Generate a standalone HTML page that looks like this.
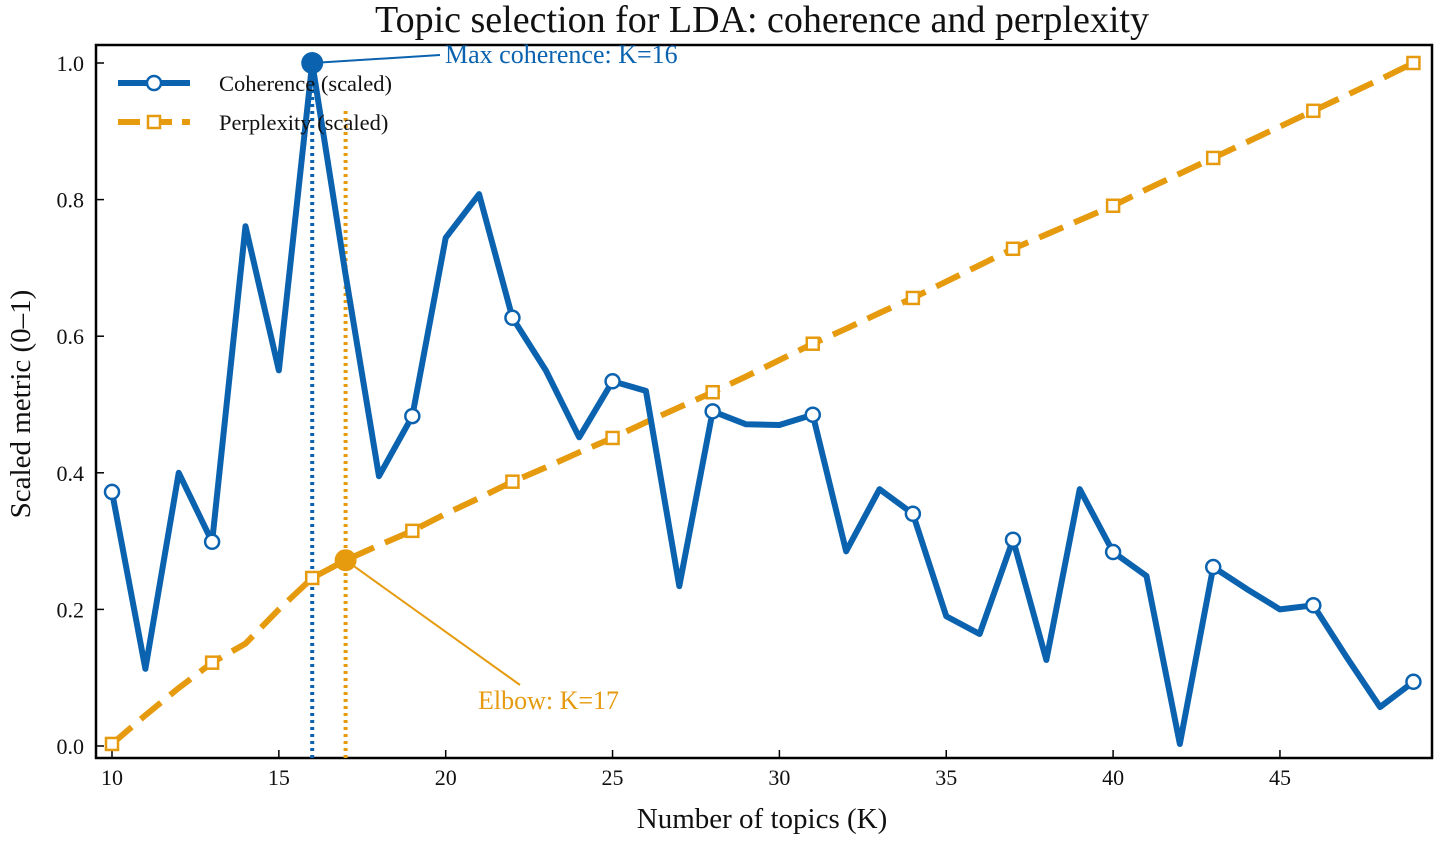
<!DOCTYPE html>
<html><head><meta charset="utf-8"><style>
body{margin:0;background:#fff;}
svg text{font-family:"Liberation Serif",serif;fill:#111;}
</style></head><body>
<svg id="chart" width="1441" height="844" xmlns="http://www.w3.org/2000/svg">
<text x="762" y="32" font-size="38" text-anchor="middle">Topic selection for LDA: coherence and perplexity</text>
<rect x="96" y="45" width="1336" height="713" fill="none" stroke="#000" stroke-width="2.5"/>
<g id="ticks"></g>
<g id="marks"></g>
<text x="762" y="828" font-size="29" text-anchor="middle">Number of topics (K)</text>
<text transform="translate(30,404) rotate(-90)" font-size="29" text-anchor="middle">Scaled metric (0–1)</text>
</svg>
<script>
const topics=[10,11,12,13,14,15,16,17,18,19,20,21,22,23,24,25,26,27,28,29,30,31,32,33,34,35,36,37,38,39,40,41,42,43,44,45,46,47,48,49];
const coherence=[0.372,0.113,0.40,0.299,0.761,0.55,1.0,0.69,0.395,0.483,0.744,0.808,0.627,0.55,0.452,0.534,0.52,0.234,0.49,0.471,0.47,0.485,0.285,0.376,0.34,0.19,0.164,0.302,0.126,0.376,0.284,0.249,0.003,0.262,0.23,0.2,0.206,0.13,0.057,0.094];
const perplexity=[0.003,0.045,0.085,0.122,0.15,0.2,0.246,0.272,0.294,0.315,0.34,0.363,0.387,0.408,0.43,0.451,0.474,0.496,0.518,0.541,0.565,0.589,0.611,0.634,0.656,0.68,0.704,0.728,0.749,0.77,0.791,0.815,0.838,0.861,0.884,0.907,0.93,0.953,0.976,1.0];
const xTicks=[10,15,20,25,30,35,40,45];
const yTicks=[0.0,0.2,0.4,0.6,0.8,1.0];
const bestK=16, elbowK=17;
const X=k=>112+(k-10)*33.37;
const Y=v=>746-v*683;
const NS="http://www.w3.org/2000/svg";
function mk(tag,attrs,parent,text){const e=document.createElementNS(NS,tag);for(const a in attrs)e.setAttribute(a,attrs[a]);if(text!==undefined)e.textContent=text;parent.appendChild(e);return e;}
const T=document.getElementById('ticks'),M=document.getElementById('marks');
xTicks.forEach(t=>{
 const l=mk('line',{x1:X(t),x2:X(t),y1:758,y2:750,stroke:'#000','stroke-width':1.5},T);
 
 
 const tx=mk('text',{x:X(t),y:785,'font-size':22,'text-anchor':'middle'},T,String(t));
 
 
});
yTicks.forEach(t=>{
 const l=mk('line',{x1:96,x2:104,y1:Y(t),y2:Y(t),stroke:'#000','stroke-width':1.5},T);
 
 
 const tx=mk('text',{x:84,y:Y(t)+8,'font-size':22,'text-anchor':'end'},T,t.toFixed(1));
 
 
});
const blue='#0b63b0',orange='#e69a0e';
let v1=mk('line',{x1:X(bestK),x2:X(bestK),y1:758,y2:Y(1),stroke:blue,'stroke-width':4,'stroke-dasharray':'3 4'},M);


let v2=mk('line',{x1:X(elbowK),x2:X(elbowK),y1:758,y2:Y(0.93),stroke:orange,'stroke-width':4,'stroke-dasharray':'3 4'},M);


const pp=perplexity.map((v,i)=>X(topics[i])+','+Y(v)).join(' ');
let pl=mk('polyline',{points:pp,fill:'none',stroke:orange,'stroke-width':6,'stroke-dasharray':'26 12'},M);


const cp=coherence.map((v,i)=>X(topics[i])+','+Y(v)).join(' ');
let cl=mk('polyline',{points:cp,fill:'none',stroke:blue,'stroke-width':6,'stroke-linejoin':'round'},M);


topics.forEach((k,i)=>{
 if(i%3!==0)return;
 const s=mk('rect',{x:X(k)-6,y:Y(perplexity[i])-6,width:12,height:12,fill:'#fff',stroke:orange,'stroke-width':2.5},M);
 
 
 if(k===bestK)return;
 const c=mk('circle',{cx:X(k),cy:Y(coherence[i]),r:7,fill:'#fff',stroke:blue,'stroke-width':2.5},M);
 
 
});
const bi=topics.indexOf(bestK),ei=topics.indexOf(elbowK);
let al=mk('line',{x1:X(bestK),y1:Y(coherence[bi]),x2:440,y2:55,stroke:blue,'stroke-width':2},M);


let bd=mk('circle',{cx:X(bestK),cy:Y(coherence[bi]),r:11,fill:blue},M);


let at=mk('text',{x:445,y:63,'font-size':26},M,'Max coherence: K='+bestK);
at.style.fill=blue;


let el=mk('line',{x1:X(elbowK),y1:Y(perplexity[ei]),x2:520,y2:685,stroke:orange,'stroke-width':2},M);


let ed=mk('circle',{cx:X(elbowK),cy:Y(perplexity[ei]),r:11,fill:orange},M);


let et=mk('text',{x:478,y:709,'font-size':26},M,'Elbow: K='+elbowK);
et.style.fill=orange;


const lg=mk('g',{},M);


mk('line',{x1:118,x2:190,y1:83,y2:83,stroke:blue,'stroke-width':6},lg);
mk('circle',{cx:154,cy:83,r:7,fill:'#fff',stroke:blue,'stroke-width':2.5},lg);
let l1=mk('text',{x:219,y:91,'font-size':22.5},lg,'Coherence (scaled)');


mk('line',{x1:118,x2:190,y1:122,y2:122,stroke:orange,'stroke-width':6,'stroke-dasharray':'22 10'},lg);
mk('rect',{x:148,y:116,width:12,height:12,fill:'#fff',stroke:orange,'stroke-width':2.5},lg);
let l2=mk('text',{x:219,y:130,'font-size':22.5},lg,'Perplexity (scaled)');


</script>
</body></html>
